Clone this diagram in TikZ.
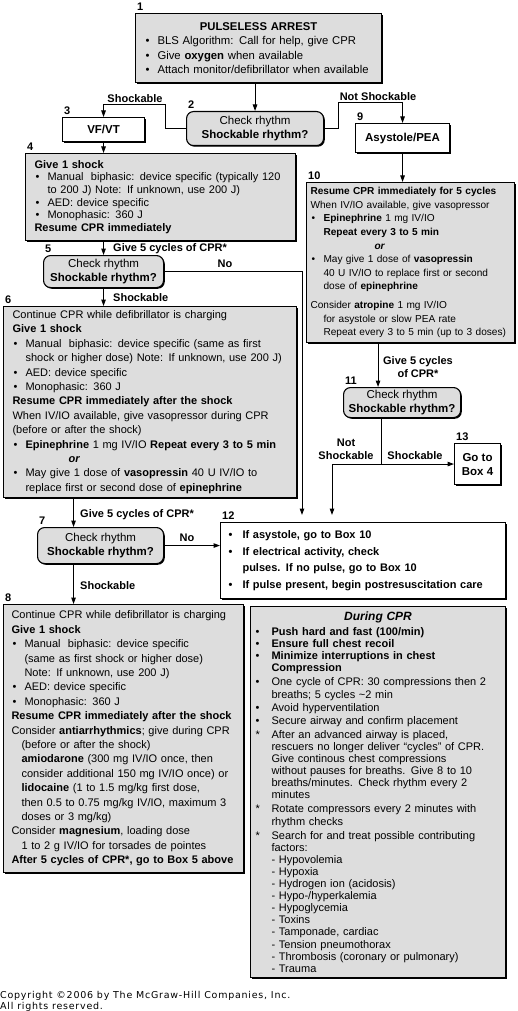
\documentclass[tikz,border=0pt]{standalone}
\usepackage{fontspec}
\setmainfont{Liberation Sans}
\newfontfamily\cpfont[LetterSpace=8]{DejaVu Sans}
\usepackage{tikz}
\usetikzlibrary{arrows.meta, positioning, shadows, calc}
\definecolor{boxgrey}{RGB}{221,221,221}
\newcommand{\fsz}[2]{\fontsize{#1}{#2}\selectfont}
\newcommand{\bul}[1][13pt]{\makebox[#1][l]{\hspace{1pt}\textbullet}}
\newcommand{\hng}[1][13pt]{\hspace*{#1}}
\newcommand{\indt}{\hspace*{10pt}}
\newcommand{\cpbul}{\makebox[17pt][l]{\hspace{1pt}\textbullet}}
\newcommand{\cpast}{\makebox[17pt][l]{\hspace{1pt}*}}
\newcommand{\cphng}{\hspace*{17pt}}

\begin{document}
\begin{tikzpicture}[x=1pt, y=-1pt,
  box/.style={draw, line width=1.1pt, fill=boxgrey, anchor=north west, align=left, inner xsep=5pt, inner ysep=2pt,
    drop shadow={shadow xshift=1.2pt, shadow yshift=-1.2pt, fill=black, opacity=1}},
  wbox/.style={box, fill=white, align=center},
  check/.style={box, rounded corners=7pt, align=center, font=\fsz{11.5}{14}},
  num/.style={anchor=south west, xshift=1pt, yshift=1pt, font=\fsz{11}{13}\bfseries, inner sep=1pt},
  lbl/.style={font=\fsz{11}{13}\bfseries, inner sep=1pt},
  arr/.style={-{Triangle[length=6.5pt,width=4.5pt]}, line width=1pt}]
  \useasboundingbox (0,0) rectangle (518,1011);

  \node[box, inner xsep=9pt, text width=228pt, minimum height=69pt, font=\fsz{11.3}{14.5}] (b1) at (135,13) {%
    \makebox[228pt][c]{\textbf{PULSELESS ARREST}}\\
    \bul BLS Algorithm: Call for help, give CPR\\
    \bul Give \textbf{oxygen} when available\\
    \bul Attach monitor/defibrillator when available};
  \node[check, minimum width=137pt, minimum height=34pt] (b2) at (186,111) {Check rhythm\\\textbf{Shockable rhythm?}};
  \node[wbox, minimum width=82pt, minimum height=24pt, font=\fsz{11.5}{14}\bfseries] (b3) at (62,117) {VF/VT};
  \node[wbox, minimum width=94pt, minimum height=29pt, font=\fsz{11.5}{14}\bfseries] (b9) at (355,123) {Asystole/PEA};

  \node[box, inner xsep=9pt, text width=252pt, minimum height=87pt, font=\fsz{11}{12.7}] (b4) at (25,153) {%
    \textbf{Give 1 shock}\\
    \bul Manual\ \ biphasic: device specific (typically 120\\
    \hng to 200 J) Note: If unknown, use 200 J)\\
    \bul AED: device specific\\
    \bul Monophasic: 360 J\\
    \textbf{Resume CPR immediately}};
  \node[check, minimum width=120pt, minimum height=32pt] (b5) at (43,255) {Check rhythm\\\textbf{Shockable rhythm?}};

  \node[box, inner xsep=9pt, text width=275pt, minimum height=191pt, font=\fsz{11}{14.4}] (b6) at (3,306) {%
    Continue CPR while defibrillator is charging\\
    \textbf{Give 1 shock}\\
    \bul Manual\ \ biphasic: device specific (same as first\\
    \hng shock or higher dose) Note: If unknown, use 200 J)\\
    \bul AED: device specific\\
    \bul Monophasic: 360 J\\
    \textbf{Resume CPR immediately after the shock}\\
    When IV/IO available, give vasopressor during CPR\\
    (before or after the shock)\\
    \bul \textbf{Epinephrine} 1 mg IV/IO \textbf{Repeat every 3 to 5 min}\\
    \hspace*{56pt}\textbf{\textit{or}}\\
    \bul May give 1 dose of \textbf{vasopressin} 40 U IV/IO to\\
    \hng replace first or second dose of \textbf{epinephrine}};
  \node[check, minimum width=126pt, minimum height=36pt] (b7) at (37,527) {Check rhythm\\\textbf{Shockable rhythm?}};

  \node[box, inner xsep=8pt, text width=224pt, minimum height=268pt, font=\fsz{11}{14.4}] (b8) at (3,604) {%
    Continue CPR while defibrillator is charging\\
    \textbf{Give 1 shock}\\
    \bul Manual\ \ biphasic: device specific\\
    \hng (same as first shock or higher dose)\\
    \hng Note: If unknown, use 200 J)\\
    \bul AED: device specific\\
    \bul Monophasic: 360 J\\
    \textbf{Resume CPR immediately after the shock}\\
    Consider \textbf{antiarrhythmics}; give during CPR\\
    \indt (before or after the shock)\\
    \indt \textbf{amiodarone} (300 mg IV/IO once, then\\
    \indt consider additional 150 mg IV/IO once) or\\
    \indt \textbf{lidocaine} (1 to 1.5 mg/kg first dose,\\
    \indt then 0.5 to 0.75 mg/kg IV/IO, maximum 3\\
    \indt doses or 3 mg/kg)\\
    Consider \textbf{magnesium}, loading dose\\
    \indt 1 to 2 g IV/IO for torsades de pointes\\
    \textbf{After 5 cycles of CPR*, go to Box 5 above}};

  \node[box, inner xsep=4pt, text width=200pt, minimum height=160pt, font=\fsz{10.1}{13.6}] (b10) at (306,182) {%
    \textbf{Resume CPR immediately for 5 cycles}\\
    When IV/IO available, give vasopressor\\
    \bul \textbf{Epinephrine} 1 mg IV/IO\\
    \hng \textbf{Repeat every 3 to 5 min}\\
    \hspace*{64pt}\textbf{\textit{or}}\\
    \bul May give 1 dose of \textbf{vasopressin}\\
    \hng 40 U IV/IO to replace first or second\\
    \hng dose of \textbf{epinephrine}\\[5pt]
    Consider \textbf{atropine} 1 mg IV/IO\\
    \hng for asystole or slow PEA rate\\
    \hng Repeat every 3 to 5 min (up to 3 doses)};
  \node[check, minimum width=117pt, minimum height=30pt] (b11) at (343,387) {Check rhythm\\\textbf{Shockable rhythm?}};
  \node[wbox, minimum width=46pt, minimum height=41pt, font=\fsz{11.5}{14}\bfseries] (b13) at (454,443) {Go to\\Box 4};

  \node[wbox, align=left, inner xsep=7pt, text width=271pt, minimum height=76pt, font=\fsz{11}{16.5}\bfseries] (b12) at (220,522) {%
    \bul[15pt]If asystole, go to Box 10\\
    \bul[15pt]If electrical activity, check\\
    \hng[15pt]pulses. If no pulse, go to Box 10\\
    \bul[15pt]If pulse present, begin postresuscitation care};

  \node[box, inner xsep=4pt, text width=247pt, minimum height=371pt, font=\fsz{11}{12.1}] (bcpr) at (250,606) {%
    \makebox[247pt][c]{\fsz{12}{14}\bfseries\itshape During CPR}\\[3pt]
    \cpbul\textbf{Push hard and fast (100/min)}\\
    \cpbul\textbf{Ensure full chest recoil}\\
    \cpbul\textbf{Minimize interruptions in chest}\\
    \cphng\textbf{Compression}\\[2pt]
    \cpbul One cycle of CPR: 30 compressions then 2\\
    \cphng breaths; 5 cycles \textasciitilde2 min\\[1pt]
    \cpbul Avoid hyperventilation\\[1pt]
    \cpbul Secure airway and confirm placement\\[2pt]
    \cpast After an advanced airway is placed,\\
    \cphng rescuers no longer deliver “cycles” of CPR.\\
    \cphng Give continous chest compressions\\
    \cphng without pauses for breaths. Give 8 to 10\\
    \cphng breaths/minutes. Check rhythm every 2\\
    \cphng minutes\\[2pt]
    \cpast Rotate compressors every 2 minutes with\\
    \cphng rhythm checks\\[2pt]
    \cpast Search for and treat possible contributing\\
    \cphng factors:\\
    \cphng - Hypovolemia\\
    \cphng - Hypoxia\\
    \cphng - Hydrogen ion (acidosis)\\
    \cphng - Hypo-/hyperkalemia\\
    \cphng - Hypoglycemia\\
    \cphng - Toxins\\
    \cphng - Tamponade, cardiac\\
    \cphng - Tension pneumothorax\\
    \cphng - Thrombosis (coronary or pulmonary)\\
    \cphng - Trauma};

  \node[num] (n1) at (b1.north west) {1};
  \node[num] (n2) at (b2.north west) {2};
  \node[num] (n3) at (b3.north west) {3};
  \node[num] (n4) at (b4.north west) {4};
  \node[num] (n5) at (b5.north west) {5};
  \node[num] (n6) at (b6.north west) {6};
  \node[num] (n7) at (b7.north west) {7};
  \node[num] (n8) at (b8.north west) {8};
  \node[num] (n9) at (b9.north west) {9};
  \node[num] (n10) at (b10.north west) {10};
  \node[num] (n11) at (b11.north west) {11};
  \node[num] (n12) at (b12.north west) {12};
  \node[num] (n13) at (b13.north west) {13};

  \coordinate (in12a) at ($(b12.north west)+(82,-7)$);
  \coordinate (in12b) at ($(b12.north west)+(112,-7)$);
  \coordinate (in7) at ($(b7.north)+(-27,0)$);
  \coordinate (out7) at ($(b7.south)+(-27,0)$);
  \coordinate (in11) at ($(b11.north)+(-24,0)$);
  \coordinate (out11) at ($(b11.south)+(-21,0)$);

  \draw[arr] (b2.north |- b1.south) -- (b2.north);
  \draw[arr] (b2.west) -- ++(-21,0) |- ($(b3.north)+(0,-12)$) -- (b3.north);
  \draw[arr] (b2.east) -- ++(14,0) |- ($(b9.north)+(0,-20)$) -- (b9.north);
  \draw[arr] (b3.south) -- (b3.south |- b4.north);
  \draw[arr] (b9.south) -- (b9.south |- b10.north);
  \draw[arr] (b5.north |- b4.south) -- (b5.north);
  \draw[arr] (b5.south) -- (b5.south |- b6.north);
  \draw[arr] (b5.east) -| (in12a);
  \draw[arr] (in7 |- b6.south) -- (in7);
  \draw[arr] (b7.east) -- (b7.east -| b12.west);
  \draw[arr] (out7) -- (out7 |- b8.north);
  \draw[arr] (in11 |- b10.south) -- (in11);
  \draw[arr] (out11) |- (b13.west);
  \draw[arr] (out11 |- b13.west) -| (in12b);

  \node[lbl, anchor=south] (l23) at (135,104) {Shockable};
  \node[lbl, anchor=south] (l29) at (378,102) {Not Shockable};
  \node[lbl, anchor=base west] (l45) at (112,251) {Give 5 cycles of CPR*};
  \node[lbl, anchor=south] (l512) at (225,269) {No};
  \node[lbl, anchor=base west] (l56) at (112,301) {Shockable};
  \node[lbl, anchor=base west] (l67) at (79,517) {Give 5 cycles of CPR*};
  \node[lbl, anchor=south] (l712) at (187,543) {No};
  \node[lbl, anchor=base west] (l78) at (79,589) {Shockable};
  \node[lbl, align=center] (l1011) at (418,367) {Give 5 cycles\\of CPR*};
  \node[lbl, align=center] (l1112) at (346,449) {Not\\Shockable};
  \node[lbl, anchor=south] (l1113) at (415,461) {Shockable};

  \node[anchor=base west, inner sep=0pt, font=\cpfont\fsz{9.5}{11}] (cp1) at (0,998) {Copyright ©2006 by The McGraw-Hill Companies, Inc.};
  \node[anchor=base west, inner sep=0pt, font=\cpfont\fsz{9.5}{11}] (cp2) at (0,1009) {All rights reserved.};
\end{tikzpicture}
\end{document}
